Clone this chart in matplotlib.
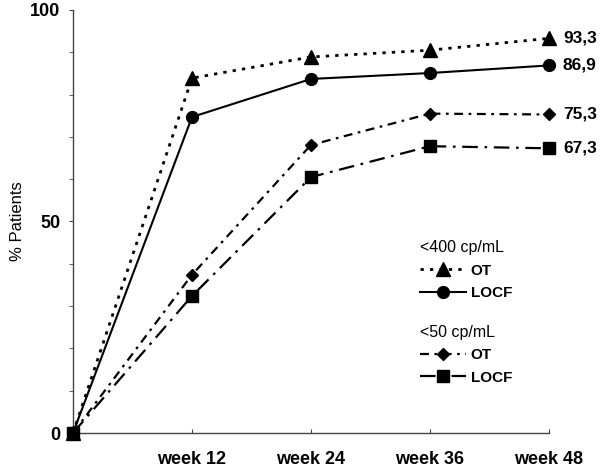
import matplotlib
matplotlib.use("Agg")
import matplotlib.pyplot as plt

plt.rcParams['font.family'] = ['Liberation Sans', 'DejaVu Sans']

weeks = [0, 12, 24, 36, 48]
week_labels = ["week 12", "week 24", "week 36", "week 48"]
ot_400 = [0, 83.9, 88.9, 90.5, 93.3]
locf_400 = [0, 74.7, 83.7, 85.1, 86.9]
ot_50 = [0, 37.4, 68.1, 75.5, 75.3]
locf_50 = [0, 32.4, 60.5, 67.8, 67.3]
end_labels = ["93,3", "86,9", "75,3", "67,3"]

fig = plt.figure(figsize=(6, 4.69), dpi=100)
ax = fig.add_axes([73/600, 36/469, 476/600, 423/469])

styles = [
    (ot_400, dict(marker='^', ms=9.5, linestyle=(0, (1.2, 2.2)), lw=2.0)),
    (locf_400, dict(marker='o', ms=8.5, linestyle='-', lw=1.5)),
    (ot_50, dict(marker='D', ms=6.5, linestyle=(0, (4, 2.5, 1.2, 2.5)), lw=1.6)),
    (locf_50, dict(marker='s', ms=8, linestyle=(0, (7, 3, 1.2, 3)), lw=1.6)),
]
handles = []
for vals, st in styles:
    h, = ax.plot(weeks, vals, color='black', clip_on=False, zorder=3, **st)
    handles.append(h)

for vals, lab in zip([ot_400, locf_400, ot_50, locf_50], end_labels):
    ax.annotate(lab, xy=(weeks[-1], vals[-1]), xytext=(10, 0), textcoords='offset points',
                va='center', ha='left', fontsize=12.5, fontweight='bold', annotation_clip=False)

ax.set_xlim(0, 48)
ax.set_ylim(0, 100)
ax.set_xticks(weeks[1:])
ax.set_xticklabels(week_labels, fontsize=13, fontweight='bold')
ax.set_yticks([0, 50, 100])
ax.set_yticklabels(["0", "50", "100"], fontsize=13, fontweight='bold')
ax.set_yticks(range(0, 101, 10), minor=True)
ax.tick_params(axis='x', direction='in', length=3, pad=13, color='#444')
ax.tick_params(axis='y', which='both', direction='out', length=3, pad=6, color='#444')
for s in ['top', 'right']:
    ax.spines[s].set_visible(False)
for s in ['left', 'bottom']:
    ax.spines[s].set_color('#444')
    ax.spines[s].set_linewidth(1.0)
ax.set_ylabel("% Patients", fontsize=12, labelpad=4)

common = dict(loc='upper left', frameon=False, handlelength=3.0, handletextpad=0.3,
              labelspacing=0.55, alignment='left', borderaxespad=0.0,
              prop={'weight': 'bold', 'size': 11}, title_fontsize=11.5)
leg1 = ax.legend(handles[:2], ["OT", "LOCF"], title="<400 cp/mL",
                 bbox_to_anchor=(0.717, 0.47), **common)
ax.add_artist(leg1)
leg2 = ax.legend(handles[2:], ["OT", "LOCF"], title="<50 cp/mL",
                 bbox_to_anchor=(0.717, 0.27), **common)

fig.savefig("out.png", dpi=100)
